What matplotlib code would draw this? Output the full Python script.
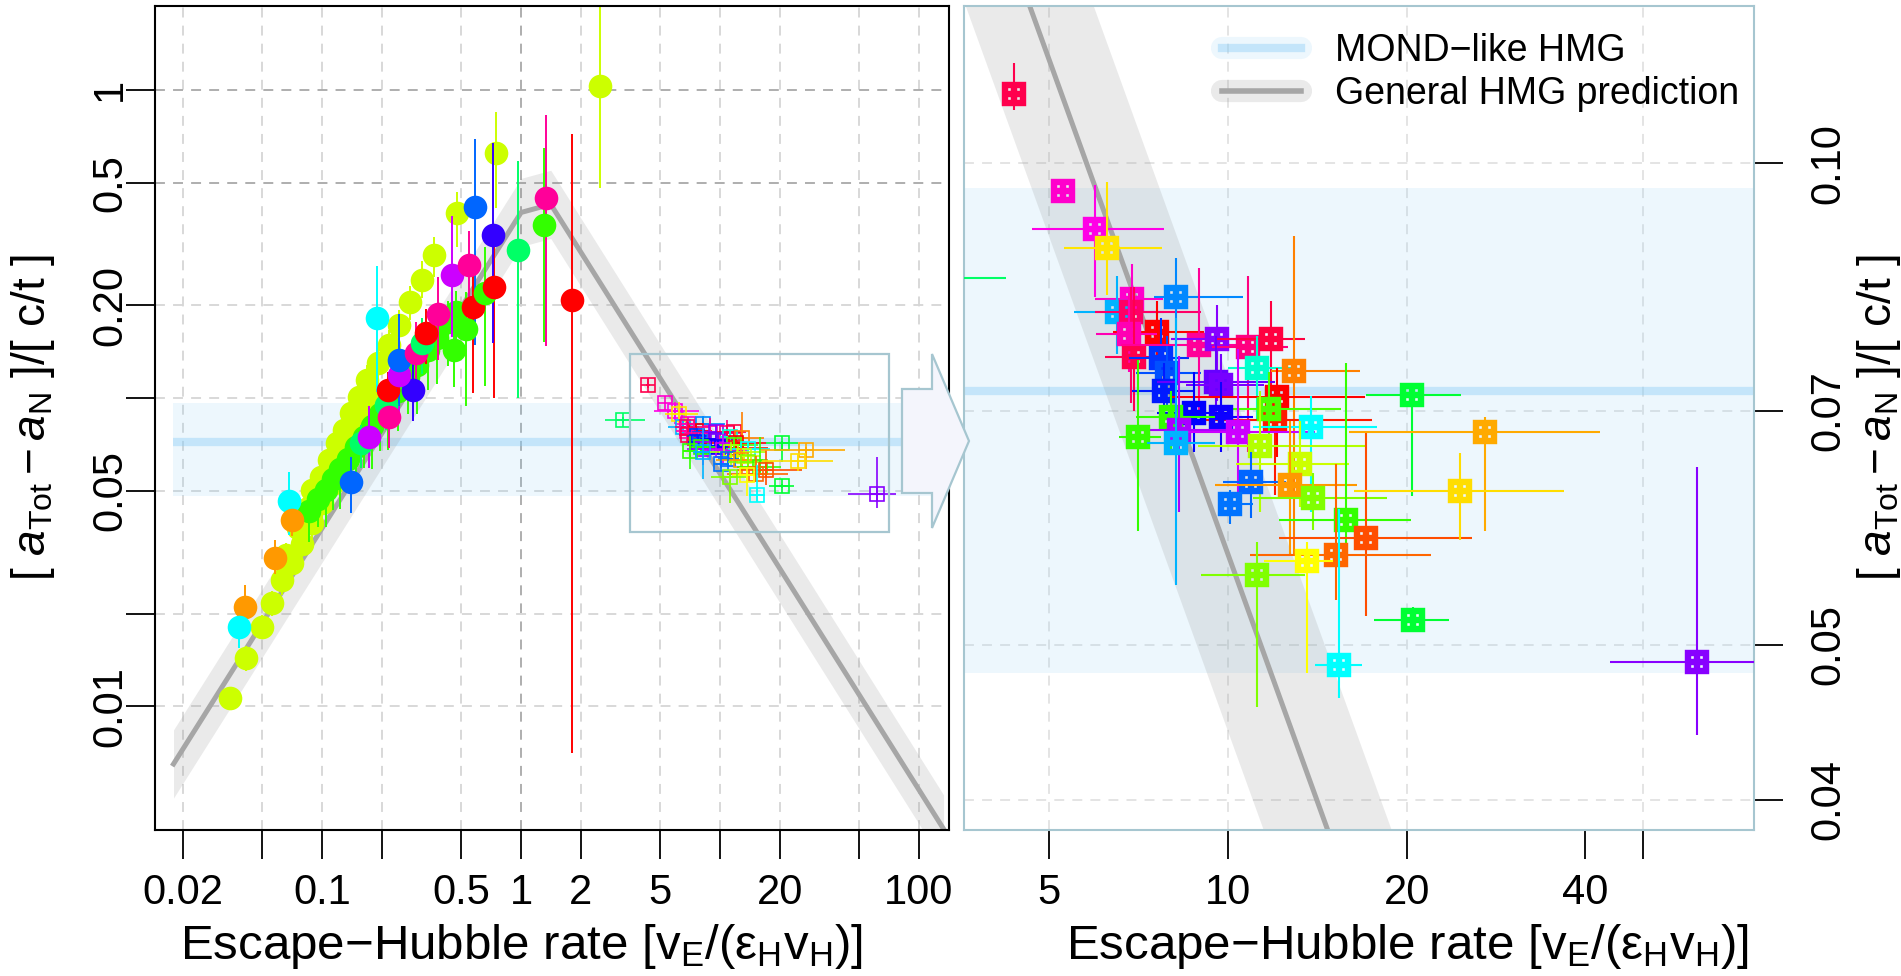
import numpy as np
import matplotlib.pyplot as plt
from matplotlib.patches import Polygon, Rectangle
from matplotlib.lines import Line2D
from matplotlib.ticker import FixedLocator, FixedFormatter, NullLocator

plt.rcParams['font.family'] = ['Liberation Sans', 'DejaVu Sans']
plt.rcParams['mathtext.fontset'] = 'custom'
plt.rcParams['mathtext.rm'] = 'Liberation Sans'
plt.rcParams['mathtext.it'] = 'Liberation Sans:italic'
plt.rcParams['mathtext.default'] = 'regular'

# --- data ---
# filled circles (left panel): x, y, colour, error bar in dex below / above
circ_x = [0.0344, 0.0415, 0.0497, 0.0557, 0.063, 0.0708, 0.0795, 0.0893, 0.1003, 0.1126,
          0.066, 0.076, 0.085, 0.125, 0.135, 0.147, 0.16, 0.176,
          0.0893, 0.0985, 0.1084, 0.119, 0.129, 0.1394, 0.1535, 0.169, 0.19, 0.2175,
          0.244, 0.277, 0.318, 0.366, 0.475, 0.744, 2.5,
          0.086, 0.095, 0.104, 0.113, 0.123, 0.135, 0.148, 0.162, 0.178, 0.195,
          0.215, 0.24, 0.27, 0.30, 0.34, 0.38, 0.43, 0.47,
          0.0682, 0.0708, 0.058, 0.0409, 0.0382, 0.1394, 0.1565, 0.1723, 0.209, 0.2135,
          0.2175, 0.285, 0.244, 0.244, 0.296, 0.318, 0.333, 0.462, 0.1885, 0.381,
          0.529, 0.571, 0.655, 0.735, 0.45, 0.545, 0.721, 0.589, 0.963, 1.31, 1.34, 1.81]
circ_y = [0.01064, 0.0143, 0.0181, 0.0216, 0.0257, 0.0291, 0.0337, 0.0392, 0.0455, 0.0528,
          0.031, 0.038, 0.044, 0.061, 0.070, 0.080, 0.090, 0.100,
          0.0503, 0.0555, 0.0629, 0.0713, 0.0787, 0.0892, 0.101, 0.1144, 0.1296, 0.1486,
          0.1726, 0.2055, 0.242, 0.291, 0.398, 0.626, 1.03,
          0.043, 0.047, 0.0505, 0.0545, 0.059, 0.0635, 0.0695, 0.0745, 0.081, 0.0885,
          0.0955, 0.1055, 0.117, 0.128, 0.1435, 0.157, 0.176, 0.19,
          0.0464, 0.0401, 0.0302, 0.021, 0.0181, 0.0535, 0.0713, 0.0748, 0.095, 0.106,
          0.087, 0.106, 0.1188, 0.1328, 0.1397, 0.151, 0.162, 0.143, 0.1815, 0.188,
          0.168, 0.198, 0.219, 0.230, 0.251, 0.27, 0.338, 0.418, 0.302, 0.364, 0.445, 0.208]
circ_col = (['#CCFF00'] * 35 + ['#33FF00'] * 18 +
            ['#00FFFF', '#FF9900', '#FF9900', '#FF9900', '#00FFFF', '#0066FF', '#00FF66', '#CC00FF',
             '#00FF66', '#FF0000', '#FF0099', '#3300FF', '#CC00FF', '#0066FF', '#FF0099', '#00FF66',
             '#FF0000', '#33FF00', '#00FFFF', '#FF0099', '#33FF00', '#FF0000', '#33FF00', '#FF0000',
             '#CC00FF', '#FF0099', '#3300FF', '#0066FF', '#00FF66', '#33FF00', '#FF0099', '#FF0000'])
circ_dlo = ([0.03, 0.04, 0.04, 0.04, 0.05, 0.04, 0.05, 0.05, 0.05, 0.05,
             0.04, 0.04, 0.05, 0.05, 0.05, 0.06, 0.05, 0.06,
             0.04, 0.05, 0.04, 0.05, 0.05, 0.05, 0.06, 0.05, 0.06, 0.06,
             0.06, 0.06, 0.06, 0.07, 0.11, 0.18, 0.33] +
            [0.10, 0.09, 0.12, 0.10, 0.13, 0.11, 0.12, 0.10, 0.14, 0.12,
             0.15, 0.13, 0.12, 0.16, 0.13, 0.15, 0.14, 0.16] +
            [0.11, 0.05, 0.05, 0.05, 0.07, 0.10, 0.08, 0.10, 0.08, 0.08,
             0.10, 0.10, 0.14, 0.15, 0.12, 0.10, 0.10, 0.12, 0.24, 0.15,
             0.25, 0.28, 0.30, 0.36, 0.20, 0.20, 0.35, 0.45, 0.48, 0.38, 0.48, 1.47])
circ_dhi = ([0.03, 0.04, 0.04, 0.04, 0.04, 0.04, 0.04, 0.04, 0.05, 0.05,
             0.04, 0.04, 0.04, 0.05, 0.05, 0.05, 0.05, 0.05,
             0.04, 0.04, 0.04, 0.05, 0.05, 0.05, 0.05, 0.05, 0.05, 0.05,
             0.05, 0.05, 0.06, 0.06, 0.07, 0.13, 0.40] +
            [0.04, 0.04, 0.05, 0.04, 0.05, 0.05, 0.05, 0.05, 0.06, 0.05,
             0.06, 0.05, 0.06, 0.06, 0.06, 0.06, 0.07, 0.07] +
            [0.095, 0.05, 0.06, 0.07, 0.07, 0.08, 0.06, 0.10, 0.06, 0.06,
             0.08, 0.10, 0.12, 0.15, 0.10, 0.08, 0.08, 0.10, 0.17, 0.12,
             0.12, 0.15, 0.15, 0.20, 0.19, 0.11, 0.30, 0.22, 0.29, 0.25, 0.27, 0.54])

# squares with x and y error bars (inset of left panel, zoomed in right panel)
sq_x = [4.35, 5.27, 5.96, 6.25, 3.25, 6.89, 6.49, 6.85, 8.18, 7.60, 6.80, 6.93, 7.70, 7.90,
        7.79, 8.93, 9.58, 10.8, 11.8, 9.53, 9.72, 11.19, 12.9, 12.1, 12.0, 11.7, 20.4, 8.75,
        9.73, 8.0, 8.26, 10.4, 7.05, 8.18, 13.8, 11.3, 13.2, 10.94, 12.7, 10.06, 13.9, 15.8,
        17.1, 15.2, 13.6, 11.2, 20.5, 15.35, 61.7, 27.1, 24.6]
sq_y = [0.1105, 0.0961, 0.0910, 0.0885, 0.0848, 0.0823, 0.0807, 0.0807, 0.0825, 0.0784,
        0.0782, 0.0757, 0.0755, 0.0739, 0.0721, 0.0770, 0.0777, 0.0768, 0.0777, 0.0730,
        0.0727, 0.0745, 0.0742, 0.0714, 0.0691, 0.0702, 0.0716, 0.0698, 0.0694, 0.0694,
        0.0681, 0.0679, 0.0674, 0.0669, 0.0684, 0.0666, 0.0649, 0.0632, 0.0629, 0.0612,
        0.0618, 0.0598, 0.0583, 0.0569, 0.0564, 0.0553, 0.0518, 0.0486, 0.0488, 0.0679, 0.0624]
sq_xlo = [4.25, 5.2, 4.67, 5.3, 2.65, 5.96, 5.5, 5.96, 7.5, 6.4, 6.0, 6.2, 6.8, 7.0,
          6.9, 6.6, 8.0, 9.4, 9.5, 7.6, 8.5, 10.0, 11.8, 8.0, 9.0, 9.5, 17.1, 7.6,
          8.3, 7.0, 6.8, 8.3, 6.55, 7.3, 11.0, 8.9, 10.3, 9.8, 9.5, 9.6, 11.0, 12.2,
          12.2, 10.9, 11.5, 9.0, 17.6, 14.0, 44.0, 16.0, 16.3]
sq_xhi = [4.45, 5.35, 7.8, 7.74, 4.22, 7.76, 7.8, 9.0, 10.6, 9.1, 7.6, 7.8, 8.6, 9.0,
          8.8, 11.0, 11.0, 12.6, 13.5, 12.0, 11.5, 13.0, 16.7, 17.0, 17.5, 15.5, 24.7, 10.0,
          11.0, 9.5, 10.6, 14.0, 7.7, 9.5, 17.8, 17.0, 16.0, 12.5, 16.5, 11.0, 18.5, 20.3,
          25.8, 22.0, 15.0, 13.5, 23.6, 16.8, 77.0, 42.3, 36.8]
sq_ylo = [0.108, 0.0955, 0.0825, 0.0827, 0.083, 0.077, 0.076, 0.0708, 0.0721, 0.075,
          0.074, 0.0700, 0.071, 0.070, 0.069, 0.070, 0.071, 0.066, 0.0715, 0.069,
          0.068, 0.069, 0.057, 0.0655, 0.062, 0.066, 0.0619, 0.066, 0.066, 0.066,
          0.0605, 0.0615, 0.0589, 0.0545, 0.0605, 0.0605, 0.061, 0.060, 0.057, 0.0595,
          0.059, 0.0575, 0.0521, 0.0533, 0.048, 0.0457, 0.0512, 0.0463, 0.0439, 0.0589, 0.0581]
sq_yhi = [0.1155, 0.0967, 0.0969, 0.0974, 0.0865, 0.0865, 0.085, 0.0837, 0.0873, 0.082,
          0.083, 0.0837, 0.080, 0.078, 0.075, 0.086, 0.0815, 0.085, 0.082, 0.078,
          0.076, 0.078, 0.090, 0.0745, 0.071, 0.074, 0.0725, 0.074, 0.073, 0.072,
          0.0758, 0.0765, 0.0753, 0.080, 0.0715, 0.072, 0.069, 0.066, 0.069, 0.0625,
          0.064, 0.075, 0.0679, 0.0649, 0.058, 0.058, 0.0528, 0.0608, 0.0646, 0.0694, 0.0659]
sq_col = ['#FF004D', '#FF00CC', '#FF00E6', '#FFE500', '#00FF66', '#FF00CC', '#00B3FF', '#FF0066',
          '#0088FF', '#FF0000', '#FF00B3', '#FF004D', '#0033FF', '#0050FF', '#001AFF', '#FF0099',
          '#8800FF', '#FF0080', '#FF0040', '#6600FF', '#7700FF', '#00FFCC', '#FF8000', '#FF0000',
          '#FF1A00', '#4DFF00', '#00FF33', '#0000FF', '#0D00FF', '#33FF00', '#AA00FF', '#CC00FF',
          '#33FF00', '#00B3FF', '#00FFFF', '#B3FF00', '#CCFF00', '#0066FF', '#FF9900', '#0073FF',
          '#80FF00', '#33FF00', '#FF4D00', '#FF6600', '#FFFF00', '#80FF00', '#00FF33', '#00FFFF',
          '#8800FF', '#FFAA00', '#FFDD00']

# general HMG prediction (broken line) and MOND-like band
pred_x = [0.0179, 1.0, 1.41, 133.0]
pred_y = [0.0065, 0.40, 0.425, 0.0040]
pred_band = 1.29
mond_mid, mond_lo, mond_hi = 0.072, 0.048, 0.0965
mond_xstart = 0.0177

# axes ticks
xt_left = [0.02, 0.05, 0.1, 0.2, 0.5, 1, 2, 5, 10, 20, 50, 100]
xl_left = ['0.02', '', '0.1', '', '0.5', '1', '2', '5', '', '20', '', '100']
yt_left = [0.01, 0.02, 0.05, 0.1, 0.2, 0.5, 1]
yl_left = ['0.01', '', '0.05', '', '0.20', '0.5', '1']
xt_right = [5, 10, 20, 40, 50]
xl_right = ['5', '10', '20', '40', '']
yt_right = [0.04, 0.05, 0.07, 0.10]
yl_right = ['0.04', '0.05', '0.07', '0.10']
zoom_box = (3.52, 71.0, 0.0367, 0.139)

xlab = 'Escape\u2212Hubble rate [v$_{E}$/(\u03b5$_{H}$v$_{H}$)]'
ylab = '[ $\\mathit{a}_{Tot}-\\mathit{a}_{N}$ ]/[ c/t ]'

W, H = 1901, 976
fig = plt.figure(figsize=(W / 100, H / 100), dpi=100)
axL = fig.add_axes([155 / W, 146 / H, 794 / W, 824 / H])
axR = fig.add_axes([964 / W, 146 / H, 790 / W, 824 / H])

BLUE = '#87CCF7'
GRID = dict(lw=1.3, dashes=(5.5, 4.5), zorder=0.5)

for ax in (axL, axR):
    ax.set_xscale('log')
    ax.set_yscale('log')
    ax.xaxis.set_minor_locator(NullLocator())
    ax.yaxis.set_minor_locator(NullLocator())

axL.set_xlim(0.01445, 141.6)
axL.set_ylim(0.00397, 1.87)
axR.set_xlim(3.59, 76.9)
axR.set_ylim(0.0383, 0.1254)

# grid
for v in xt_left:
    axL.axvline(v, color='#A8A8A8' if v == 1 else '#D6D6D6', **GRID)
for v in yt_left:
    axL.axhline(v, color='#A8A8A8' if v in (0.5, 1) else '#D6D6D6', **GRID)
for v in [5, 10, 20, 50]:
    axR.axvline(v, color='#E2E2E2', **GRID)
for v in yt_right:
    axR.axhline(v, color='#E2E2E2', **GRID)

# MOND band
axL.fill_between([mond_xstart, 1000], mond_lo, mond_hi, color=BLUE, alpha=0.15, lw=0, zorder=1)
axL.plot([mond_xstart, 1000], [mond_mid] * 2, color=BLUE, alpha=0.4, lw=6, zorder=1.1,
         solid_capstyle='butt')
axR.axhspan(mond_lo, mond_hi, color=BLUE, alpha=0.15, lw=0, zorder=1)
axR.axhline(mond_mid, color=BLUE, alpha=0.4, lw=6, zorder=1.1)

# prediction line and band
py = np.array(pred_y)
for ax in (axL, axR):
    ax.fill_between(pred_x, py / pred_band, py * pred_band, color='#8D8D8D', alpha=0.18,
                    lw=0, zorder=1.2)
    ax.plot(pred_x, pred_y, color='#A6A6A6', lw=3.6, zorder=1.3, solid_joinstyle='round')

# circles
z = 2
for x, y, c, lo, hi in zip(circ_x, circ_y, circ_col, circ_dlo, circ_dhi):
    axL.errorbar([x], [y], yerr=[[y - y * 10 ** -lo], [y * 10 ** hi - y]], fmt='o', ms=17,
                 color=c, mec=c, mew=0, elinewidth=1.4, capsize=0, zorder=z)
    z += 0.01


def boxplus(ax, x, y, c, ms, mew, z):
    ax.plot([x], [y], ls='none', marker='s', mfc='none', mec=c, ms=ms, mew=mew, zorder=z)
    ax.plot([x], [y], ls='none', marker='+', mec=c, ms=ms, mew=mew, zorder=z)


for i, (x, y, c) in enumerate(zip(sq_x, sq_y, sq_col)):
    xe = [[x - sq_xlo[i]], [sq_xhi[i] - x]]
    ye = [[y - sq_ylo[i]], [sq_yhi[i] - y]]
    axL.errorbar([x], [y], xerr=xe, yerr=ye, fmt='none', ecolor=c, elinewidth=1.2,
                 capsize=0, zorder=3 + i * 0.01)
    boxplus(axL, x, y, c, 10, 1.2, 3 + i * 0.01)
    axR.errorbar([x], [y], xerr=xe, yerr=ye, fmt='none', ecolor=c, elinewidth=1.5,
                 capsize=0, zorder=3 + i * 0.01)
    boxplus(axR, x, y, c, 12.5, 4.6, 3.005 + i * 0.01)

# zoom rectangle in left panel
x0, x1, y0, y1 = zoom_box
axL.add_patch(Rectangle((x0, y0), x1 - x0, y1 - y0, fill=False, ec='#A6C6D0', lw=1.6, zorder=4))

# ticks and labels
for ax, xt, xl, yt, yl in ((axL, xt_left, xl_left, yt_left, yl_left),
                          (axR, xt_right, xl_right, yt_right, yl_right)):
    ax.xaxis.set_major_locator(FixedLocator(xt))
    ax.xaxis.set_major_formatter(FixedFormatter(xl))
    ax.yaxis.set_major_locator(FixedLocator(yt))
    ax.yaxis.set_major_formatter(FixedFormatter(yl))
    ax.tick_params(direction='out', length=21, width=1.3, labelsize=30)
    ax.tick_params(axis='x', pad=10)
    ax.set_xlabel(xlab, fontsize=35.5)
    ax.xaxis.label.set_va('center')

axL.tick_params(axis='y', pad=-3)
axR.yaxis.tick_right()
axR.tick_params(axis='y', pad=18)
axR.yaxis.set_label_position('right')
axL.xaxis.set_label_coords(0.461, -0.141)
axR.xaxis.set_label_coords(0.561, -0.141)
axL.set_ylabel(ylab, fontsize=33)
axR.set_ylabel(ylab, fontsize=33)
for ax, xc in ((axL, -0.154), (axR, 1.158)):
    ax.yaxis.label.set_va('center')
    ax.yaxis.label.set_ha('center')
    ax.yaxis.set_label_coords(xc, 0.5)
    for t in ax.get_yticklabels():
        t.set_rotation(90)
        t.set_va('center')

for s in axL.spines.values():
    s.set_linewidth(1.5)
for s in axR.spines.values():
    s.set_color('#A6C6D0')
    s.set_linewidth(1.5)

# legend
blue_h = (Line2D([], [], color=BLUE, alpha=0.15, lw=16, solid_capstyle='round'),
          Line2D([], [], color=BLUE, alpha=0.4, lw=6))
gray_h = (Line2D([], [], color='#8D8D8D', alpha=0.18, lw=16, solid_capstyle='round'),
          Line2D([], [], color='#A6A6A6', lw=4))
axR.legend([blue_h, gray_h], ['MOND\u2212like HMG', 'General HMG prediction'],
           loc='upper right', bbox_to_anchor=(1.0, 0.985), frameon=False, fontsize=27,
           handlelength=2.1, handletextpad=0.9, labelspacing=0.185, borderaxespad=0)

# block arrow from the zoom box to the right panel (figure pixels)
arrow_px = [(902, 389), (932, 389), (932, 354), (969, 441), (932, 528), (932, 493), (902, 493)]
fig.add_artist(Polygon([(px / W, 1 - py_ / H) for px, py_ in arrow_px], closed=True,
                       transform=fig.transFigure, fc='#F4F5FC', ec='#A6C6D0', lw=1.6,
                       zorder=10))

fig.savefig('out.png', dpi=100)
